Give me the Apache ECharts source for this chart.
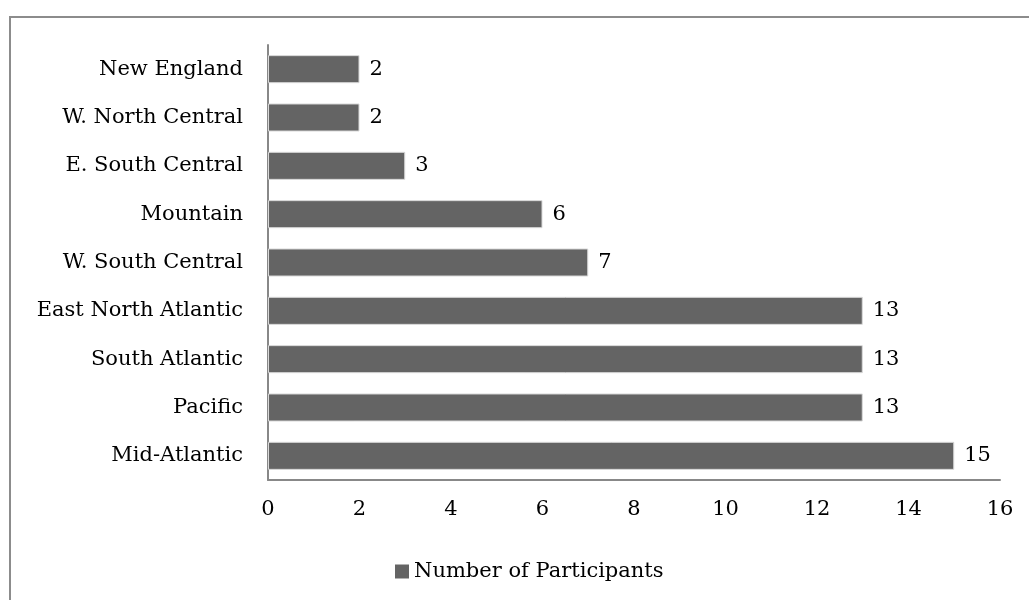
<!DOCTYPE html>
<html>
<head>
<meta charset="utf-8">
<script src="https://cdn.jsdelivr.net/npm/echarts@6/dist/echarts.min.js"></script>
<style>
  html, body { margin: 0; padding: 0; background: #fff; }
  #frame { position: absolute; left: 9px; top: 16px; width: 1040px; height: 600px; border: 2px solid #8c8c8c; box-sizing: border-box; }
  #chart { position: absolute; left: 0; top: 0; width: 1029px; height: 600px; }
</style>
</head>
<body>
<div id="frame"></div>
<div id="chart"></div>
<script>
// Regions, listed from bottom to top of the axis
const regions = ['Mid-Atlantic', 'Pacific', 'South Atlantic', 'East North Atlantic',
  'W. South Central', 'Mountain', 'E. South Central', 'W. North Central', 'New England'];
const participants = [15, 13, 13, 13, 7, 6, 3, 2, 2];
const seriesName = 'Number of Participants';

const FONT = 'DejaVu Serif';
const SIZE = 21;
const chart = echarts.init(document.getElementById('chart'), null, { renderer: 'canvas' });
chart.setOption({
  animation: false,
  textStyle: { fontFamily: FONT },
  grid: { left: 268, right: 29, top: 45, bottom: 120, containLabel: false },
  legend: {
    top: 556, left: 390,
    itemWidth: 14, itemHeight: 14, itemGap: 5,
    icon: 'rect',
    itemStyle: { borderWidth: 0 },
    textStyle: { fontFamily: FONT, fontSize: SIZE, color: '#000' },
    data: [seriesName]
  },
  xAxis: {
    type: 'value', min: 0, max: 16, interval: 2,
    axisLine: { show: true, lineStyle: { color: '#888', width: 2 } },
    axisTick: { show: false },
    splitLine: { show: false },
    axisLabel: { fontFamily: FONT, fontSize: SIZE, color: '#000', margin: 19 }
  },
  yAxis: {
    type: 'category', data: regions,
    axisLine: { show: true, lineStyle: { color: '#888', width: 2 } },
    axisTick: { show: false },
    axisLabel: { fontFamily: FONT, fontSize: SIZE, color: '#000', margin: 25 }
  },
  series: [{
    name: seriesName, type: 'bar', data: participants,
    barCategoryGap: '42%',
    itemStyle: { color: '#646464', borderColor: '#d9d9d9', borderWidth: 1 },
    label: { show: true, position: 'right', distance: 10, fontFamily: FONT, fontSize: SIZE, color: '#000' }
  }]
});
</script>
</body>
</html>
